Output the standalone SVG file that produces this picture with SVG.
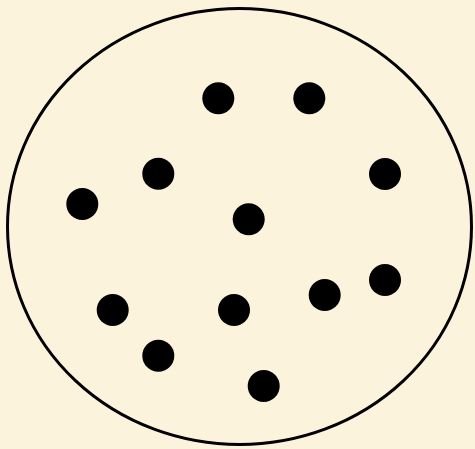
<svg xmlns="http://www.w3.org/2000/svg" width="475" height="449" viewBox="0 0 475 449">
<style>
.dot{fill:#000}
.ring{fill:none;stroke:#000;stroke-width:3}
</style>
<rect x="0" y="0" width="475" height="449" fill="#fcf3dc"/>
<g id="boundary"><ellipse class="ring" cx="239.5" cy="226.5" rx="232" ry="218"/></g>
<g id="dots">
<circle class="dot" cx="218.3" cy="98.3" r="16"/>
<circle class="dot" cx="309.3" cy="98.3" r="16"/>
<circle class="dot" cx="158.3" cy="173.7" r="16"/>
<circle class="dot" cx="385" cy="174" r="16"/>
<circle class="dot" cx="82.3" cy="204" r="16"/>
<circle class="dot" cx="248.7" cy="219.3" r="16"/>
<circle class="dot" cx="385" cy="280" r="16"/>
<circle class="dot" cx="324.7" cy="295" r="16"/>
<circle class="dot" cx="112.7" cy="310" r="16"/>
<circle class="dot" cx="234" cy="310" r="16"/>
<circle class="dot" cx="158.3" cy="355.7" r="16"/>
<circle class="dot" cx="263.7" cy="386" r="16"/>
</g>
</svg>
